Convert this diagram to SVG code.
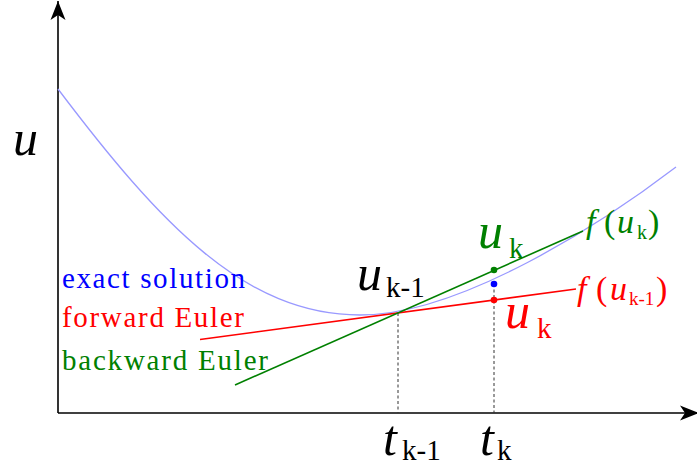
<svg xmlns="http://www.w3.org/2000/svg" width="697" height="467" viewBox="0 0 697 467">
<style>
.ax{stroke:#000;stroke-width:1.6;fill:none}
.dash{stroke:#333;stroke-width:1;stroke-dasharray:3,2.5;fill:none}
.m{font-family:"Liberation Serif","DejaVu Serif",serif;font-style:italic}
.r{font-family:"Liberation Serif","DejaVu Serif",serif}
.lab{font-family:"Liberation Serif","DejaVu Serif",serif;font-size:29px}
</style>
<defs>
<marker id="arr" markerUnits="userSpaceOnUse" markerWidth="22" markerHeight="18" viewBox="-20 -9 22 18" refX="0" refY="0" orient="auto">
<path d="M0,0 L-19,-7.5 L-14,0 L-19,7.5 Z" fill="#000"/>
</marker>
</defs>
<g id="axes">
<line class="ax" x1="58" y1="413" x2="58" y2="1" marker-end="url(#arr)"/>
<line class="ax" x1="58" y1="413" x2="699" y2="413" marker-end="url(#arr)"/>
</g>
<g id="connectors">
<line class="dash" x1="398" y1="313" x2="398" y2="413"/>
<line class="dash" x1="494" y1="284" x2="494" y2="413"/>
<path id="exact-curve" d="M58,89 C160,224 245,315 360,315 C460,315 600,225 676,167" fill="none" stroke="#9999ff" stroke-width="1.3"/>
<line id="forward-line" x1="200" y1="339.5" x2="576" y2="289" stroke="#ff0000" stroke-width="1.6"/>
<line id="backward-line" x1="235" y1="385" x2="583" y2="231" stroke="#008000" stroke-width="1.6"/>
</g>
<g id="points">
<circle cx="494" cy="270" r="3.3" fill="#008000"/>
<circle cx="494" cy="284" r="3.3" fill="#0000ff"/>
<circle cx="494" cy="300" r="3.3" fill="#ff0000"/>
</g>
<g id="labels">
<text class="m" x="13" y="155" font-size="50">u</text>
<text x="357" y="290"><tspan class="m" font-size="50">u</tspan><tspan class="r" x="386" y="297" font-size="29">k-1</tspan></text>
<text x="478" y="248" fill="#008000"><tspan class="m" font-size="50">u</tspan><tspan class="r" x="509" y="258" font-size="29">k</tspan></text>
<text x="505" y="328" fill="#ff0000"><tspan class="m" font-size="50">u</tspan><tspan class="r" x="537" y="338" font-size="29">k</tspan></text>
<text x="586" y="233" fill="#008000"><tspan class="m" font-size="34">f</tspan><tspan class="r" x="604" font-size="34">(</tspan><tspan class="m" x="617" font-size="34">u</tspan><tspan class="r" x="637" y="239" font-size="20">k</tspan><tspan class="r" x="648" y="233" font-size="34">)</tspan></text>
<text x="577" y="300" fill="#ff0000"><tspan class="m" font-size="34">f</tspan><tspan class="r" x="596" font-size="34">(</tspan><tspan class="m" x="610" font-size="34">u</tspan><tspan class="r" x="629" y="305" font-size="19">k-1</tspan><tspan class="r" x="656" y="300" font-size="34">)</tspan></text>
<text x="383" y="455"><tspan class="m" font-size="50">t</tspan><tspan class="r" x="402" y="460" font-size="29">k-1</tspan></text>
<text x="480" y="455"><tspan class="m" font-size="50">t</tspan><tspan class="r" x="497" y="460" font-size="29">k</tspan></text>
<text class="lab" x="62" y="288" fill="#0000ff" textLength="183" lengthAdjust="spacing">exact solution</text>
<text class="lab" x="62" y="327" fill="#ff0000" textLength="182" lengthAdjust="spacing">forward Euler</text>
<text class="lab" x="62" y="370" fill="#008000" textLength="206" lengthAdjust="spacing">backward Euler</text>
</g>
</svg>
